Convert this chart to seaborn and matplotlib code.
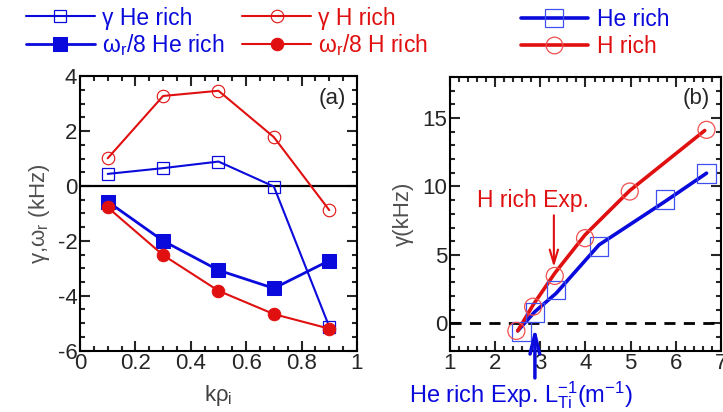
import numpy as np
import pandas as pd
import seaborn as sns
import matplotlib.pyplot as plt
from matplotlib.ticker import MultipleLocator
from matplotlib.lines import Line2D

# 面板 (a) 数据
k_rho = [0.1, 0.3, 0.5, 0.7, 0.9]
gamma_he = [0.44, 0.65, 0.89, -0.02, -5.13]
gamma_h = [1.01, 3.28, 3.47, 1.78, -0.88]
omega_he = [-0.57, -2.0, -3.07, -3.73, -2.72]
omega_h = [-0.78, -2.52, -3.82, -4.67, -5.2]

# 面板 (b) 数据点
lti_he = [2.59, 2.88, 3.35, 4.30, 5.76, 6.68]
gb_he = [-0.61, 0.78, 2.44, 5.6, 9.07, 10.97]
lti_h = [2.47, 2.84, 3.32, 3.99, 4.98, 6.68]
gb_h = [-0.56, 1.21, 3.46, 6.22, 9.63, 14.14]

# 面板 (b) 拟合曲线
fit_he_x = [2.50, 2.88, 3.35, 4.30, 5.76, 6.68]
fit_he_y = [-0.55, 0.85, 2.19, 5.73, 8.9, 10.97]
fit_h_x = [2.50, 2.84, 3.32, 3.99, 4.98, 6.64]
fit_h_y = [-0.55, 1.34, 3.66, 6.46, 9.7, 14.09]

sns.set_style('ticks')
plt.rcParams['font.family'] = ['Liberation Sans', 'DejaVu Sans']
plt.rcParams['mathtext.fontset'] = 'custom'
plt.rcParams['mathtext.rm'] = 'Liberation Sans'
plt.rcParams['mathtext.it'] = 'Liberation Sans:italic'
plt.rcParams['axes.unicode_minus'] = False

blue = '#0a0adc'
red = '#e01010'
fs = 16
lfs = 16.5

fig = plt.figure(figsize=(7.23, 4.12), dpi=100)
ax1 = fig.add_axes([0.1107, 0.149, 0.383, 0.666])
ax2 = fig.add_axes([0.6224, 0.149, 0.3748, 0.664])

df_a = pd.DataFrame({'k': k_rho, 'gh': gamma_he, 'gH': gamma_h, 'oh': omega_he, 'oH': omega_h})

ax1.axhline(0, color='black', lw=1.6, zorder=1)
sns.lineplot(data=df_a, x='k', y='gh', ax=ax1, color=blue, lw=1.5, marker='s', ms=9,
             mfc='none', mec=blue, mew=0.9, label='γ He rich')
sns.lineplot(data=df_a, x='k', y='oh', ax=ax1, color=blue, lw=2, marker='s', ms=10,
             mfc=blue, mec=blue, label='ω$_\\mathregular{r}$/8 He rich')
sns.lineplot(data=df_a, x='k', y='gH', ax=ax1, color=red, lw=1.5, marker='o', ms=9,
             mfc='none', mec=red, mew=0.8, label='γ H rich')
sns.lineplot(data=df_a, x='k', y='oH', ax=ax1, color=red, lw=1.5, marker='o', ms=9,
             mfc=red, mec=red, label='ω$_\\mathregular{r}$/8 H rich')

ax1.set_xlim(0, 1)
ax1.set_ylim(-6, 4)
ax1.xaxis.set_minor_locator(MultipleLocator(0.05))
ax1.yaxis.set_major_locator(MultipleLocator(2))
ax1.yaxis.set_minor_locator(MultipleLocator(0.5))
ax1.set_xticks([0, 0.2, 0.4, 0.6, 0.8, 1.0])
ax1.set_xticklabels(['0', '0.2', '0.4', '0.6', '0.8', '1'])
ax1.set_xlabel('kρ$_\\mathregular{i}$', fontsize=fs, color='#404040', labelpad=6)
ax1.set_ylabel('γ,ω$_\\mathregular{r}$ (kHz)', fontsize=fs, color='#505050', labelpad=4)
ax1.text(0.96, 0.92, '(a)', transform=ax1.transAxes, ha='right', va='center', fontsize=fs)

h, l = ax1.get_legend_handles_labels()
ax1.get_legend().remove()
leg1 = fig.legend(h, l, ncol=2, loc='upper left',
                  bbox_to_anchor=(0.02, 1.012), frameon=False, fontsize=lfs, borderpad=0,
                  handlelength=3.0, handletextpad=0.3, columnspacing=0.8, labelspacing=0.12)
for t, c in zip(leg1.get_texts(), [blue, blue, red, red]):
    t.set_color(c)

# 面板 (b)
ax2.axhline(0, color='black', lw=2, ls=(0, (4, 3)), zorder=1)
df_fit_he = pd.DataFrame({'x': fit_he_x, 'y': fit_he_y})
df_fit_h = pd.DataFrame({'x': fit_h_x, 'y': fit_h_y})
sns.lineplot(data=df_fit_he, x='x', y='y', ax=ax2, color=blue, lw=2.6)
sns.lineplot(data=df_fit_h, x='x', y='y', ax=ax2, color=red, lw=2.6)
sns.scatterplot(x=lti_he, y=gb_he, ax=ax2, marker='s', s=180, facecolor='none',
                edgecolor='#4050f0', linewidth=0.9, zorder=3)
sns.scatterplot(x=lti_h, y=gb_h, ax=ax2, marker='o', s=150, facecolor='none',
                edgecolor='#f05050', linewidth=0.9, zorder=3)

ax2.set_xlim(1, 7)
ax2.set_ylim(-2, 18)
ax2.xaxis.set_major_locator(MultipleLocator(1))
ax2.xaxis.set_minor_locator(MultipleLocator(0.2))
ax2.yaxis.set_minor_locator(MultipleLocator(1))
ax2.set_yticks([0, 5, 10, 15])
ax2.set_xlabel('')
ax2.set_ylabel('γ(kHz)', fontsize=fs, color='#505050', labelpad=6)
ax2.text(0.96, 0.92, '(b)', transform=ax2.transAxes, ha='right', va='center', fontsize=fs)

ax2.annotate('', xy=(3.30, 3.9), xytext=(3.30, 8.1),
             arrowprops=dict(arrowstyle='->,head_length=1.0,head_width=0.3', color=red, lw=1.5))
ax2.text(2.84, 9.0, 'H rich Exp.', color=red, fontsize=lfs, ha='center', va='center')
ax2.annotate('', xy=(2.88, -0.1), xytext=(2.88, -4.2), annotation_clip=False,
             arrowprops=dict(arrowstyle='->,head_length=1.4,head_width=0.35', color=blue, lw=2.5))
fig.text(521 / 723, 1 - 395 / 412, 'He rich Exp. L$_\\mathregular{Ti}^\\mathregular{-1}$(m$^\\mathregular{-1}$)',
         color=blue, fontsize=17, ha='center', va='center')

hb = [Line2D([], [], color=blue, lw=2.6, marker='s', ms=13, mfc='none', mec='#4050f0', mew=0.9),
      Line2D([], [], color=red, lw=2.6, marker='o', ms=12, mfc='none', mec='#f05050', mew=0.9)]
leg2 = fig.legend(hb, ['He rich', 'H rich'], loc='upper left', bbox_to_anchor=(0.705, 1.008),
                  frameon=False, fontsize=lfs, borderpad=0, handlelength=2.9, handletextpad=0.4,
                  labelspacing=0.15)
for t, c in zip(leg2.get_texts(), [blue, red]):
    t.set_color(c)

for ax in (ax1, ax2):
    for s in ax.spines.values():
        s.set_linewidth(1.5)
        s.set_color('black')
    ax.tick_params(which='both', direction='in', top=True, right=True, labelsize=fs, width=1.5)
    ax.tick_params(which='major', length=7, pad=2)
    ax.tick_params(which='minor', length=3.5)

plt.savefig('out.png', dpi=100)
